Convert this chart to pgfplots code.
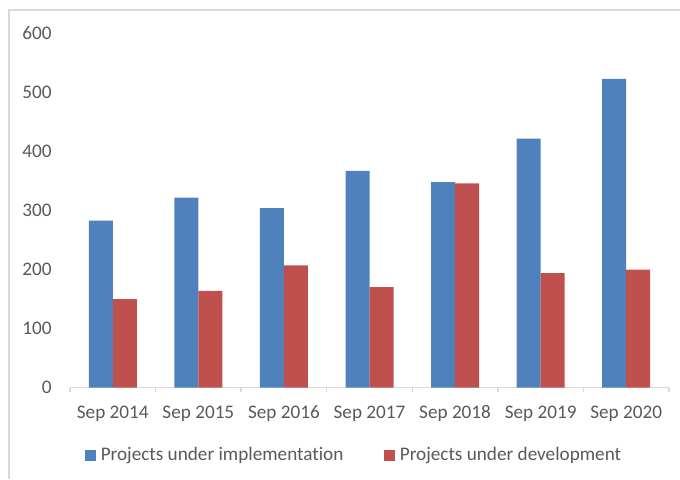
\documentclass[border=0pt]{standalone}
\usepackage{fontspec}
\setmainfont{Carlito}[Ligatures={NoCommon}]
\usepackage{pgfplots}
\pgfplotsset{compat=1.18}
\definecolor{impc}{RGB}{79,129,189}
\definecolor{devc}{RGB}{192,80,77}
\definecolor{lblc}{RGB}{89,89,89}
\definecolor{linec}{RGB}{217,217,217}

\begin{document}
\begin{tikzpicture}
\useasboundingbox (0pt,-239.5pt) rectangle (340pt,0pt);
% outer frame of the cropped chart area
\draw[linec, line width=1pt] (4.5pt,-239.5pt) -- (4.5pt,-5pt) -- (340pt,-5pt);
\begin{axis}[
  at={(35pt,-193.75pt)}, anchor=south west,
  scale only axis, width=299.5pt, height=177pt,
  xmin=-0.5, xmax=6.5, ymin=0, ymax=600,
  ybar=0pt, bar width=12pt,
  axis lines*=left,
  y axis line style={draw=none},
  x axis line style={linec, line width=0.75pt},
  xtick={0,...,6},
  xticklabels={Sep 2014,Sep 2015,Sep 2016,Sep 2017,Sep 2018,Sep 2019,Sep 2020},
  minor xtick={-0.5,0.5,...,6.5},
  major tick length=0pt, minor tick length=2pt, tick align=outside,
  minor tick style={linec, line width=0.75pt},
  ytick={0,100,...,600}, ytick style={draw=none},
  /pgf/number format/assume math mode=true,
  tick label style={font=\fontsize{9.6}{11}\selectfont, text=lblc, inner sep=0pt},
  xticklabel style={anchor=north, text height=6.2pt, text depth=0pt, yshift=-9.25pt},
  yticklabel style={anchor=east, text height=6.2pt, text depth=0pt, xshift=-9pt},
  legend columns=2,
  legend style={at={(0.025,-0.192)}, anchor=west, draw=none, fill=none,
    inner sep=0pt, nodes={inner sep=0pt, text=lblc},
    font=\fontsize{9.6}{11}\selectfont,
    /tikz/every odd column/.style={column sep=2.5pt},
    /tikz/every even column/.style={column sep=20.5pt}},
  legend image code/.code={\fill[#1] (0pt,-2.6pt) rectangle (5.2pt,2.6pt);},
]
  \addplot[draw=none, fill=impc] coordinates
    {(0,283) (1,322) (2,304) (3,367) (4,348) (5,422) (6,523)};
  \addplot[draw=none, fill=devc] coordinates
    {(0,150) (1,164) (2,207) (3,170) (4,346) (5,194) (6,200)};
  \legend{Projects under implementation, Projects under development}
\end{axis}
\end{tikzpicture}
\end{document}
